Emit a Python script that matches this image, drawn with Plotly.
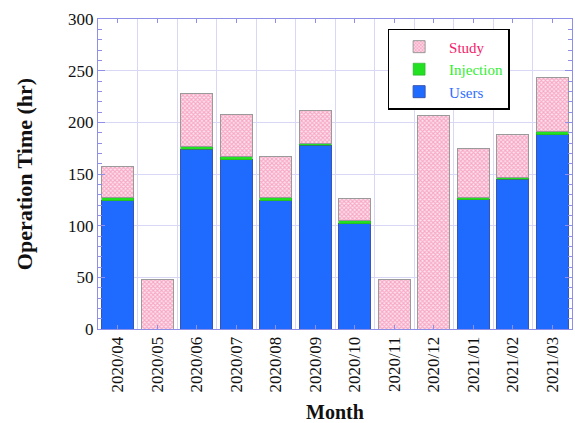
import plotly.graph_objects as go

months = ["2020/04", "2020/05", "2020/06", "2020/07", "2020/08", "2020/09",
          "2020/10", "2020/11", "2020/12", "2021/01", "2021/02", "2021/03"]
users = [124, 0, 174, 164, 124, 178, 102, 0, 0, 125, 145, 188]
injection = [3, 0, 3, 3, 3, 2, 3, 0, 0, 2, 2, 3]
study = [30, 48, 51, 41, 40, 31, 21, 48, 207, 48, 41, 52]

xpos = list(range(len(months)))
FONT = "Liberation Serif"
AXC = "#8f8fe8"
GRIDC = "#d8d8f6"
OUTLINE = "#9a9a9a"

fig = go.Figure()
fig.add_trace(go.Bar(
    x=xpos, y=users, name="<span style='color:#2f6dff'>Users</span>",
    marker=dict(color="#1f6bff", line=dict(color="#3a55b0", width=1)),
    width=0.8,
))
fig.add_trace(go.Bar(
    x=xpos, y=injection, name="<span style='color:#33ee33'>Injection</span>",
    marker=dict(color="#22e022", line=dict(color="#2a9a2a", width=0.5)),
    width=0.8,
))
fig.add_trace(go.Bar(
    x=xpos, y=study, name="<span style='color:#f41a6a'>Study</span>",
    marker=dict(color="#ffffff", line=dict(color=OUTLINE, width=1),
                pattern=dict(shape="x", fgcolor="#ee6c9c", bgcolor="#ffe4ee",
                             size=3, solidity=0.6)),
    width=0.8,
))

fig.update_layout(
    barmode="stack",
    width=575, height=423,
    margin=dict(l=98, r=2, t=19, b=92),
    paper_bgcolor="white", plot_bgcolor="white",
    font=dict(family=FONT, size=17, color="#111111"),
    showlegend=True,
    legend=dict(
        x=0.611, y=0.968, xanchor="left", yanchor="top",
        traceorder="reversed",
        bgcolor="white", bordercolor="black", borderwidth=1.5,
        font=dict(family=FONT, size=15),
        itemwidth=50,
        tracegroupgap=0,
    ),
    xaxis=dict(
        range=[-0.5, len(months) - 0.5],
        tickmode="array", tickvals=xpos, ticktext=months,
        tickangle=-90,
        ticks="inside", ticklen=4, tickcolor=AXC,
        showgrid=False, zeroline=False,
        showline=True, linecolor=AXC, linewidth=1, mirror="allticks",
        minor=dict(tick0=0.5, dtick=1, showgrid=True, gridcolor=GRIDC,
                   gridwidth=1, ticks=""),
        title=dict(text="<b>Month</b>", font=dict(family=FONT, size=20), standoff=14),
        tickfont=dict(family=FONT, size=17),
    ),
    yaxis=dict(
        range=[0, 300], dtick=50, tick0=0,
        ticks="inside", ticklen=7, tickcolor=AXC,
        showgrid=True, gridcolor=GRIDC, gridwidth=1,
        zeroline=False,
        showline=True, linecolor=AXC, linewidth=1, mirror="allticks",
        minor=dict(dtick=10, ticks="inside", ticklen=4, tickcolor=AXC, showgrid=False),
        title=dict(text="<b>Operation Time (hr)</b>", font=dict(family=FONT, size=22), standoff=29),
        tickfont=dict(family=FONT, size=17),
    ),
)

fig.write_html("out.html", config={"displayModeBar": False},
               post_script="document.body.style.margin='0';document.body.style.overflow='hidden';")
